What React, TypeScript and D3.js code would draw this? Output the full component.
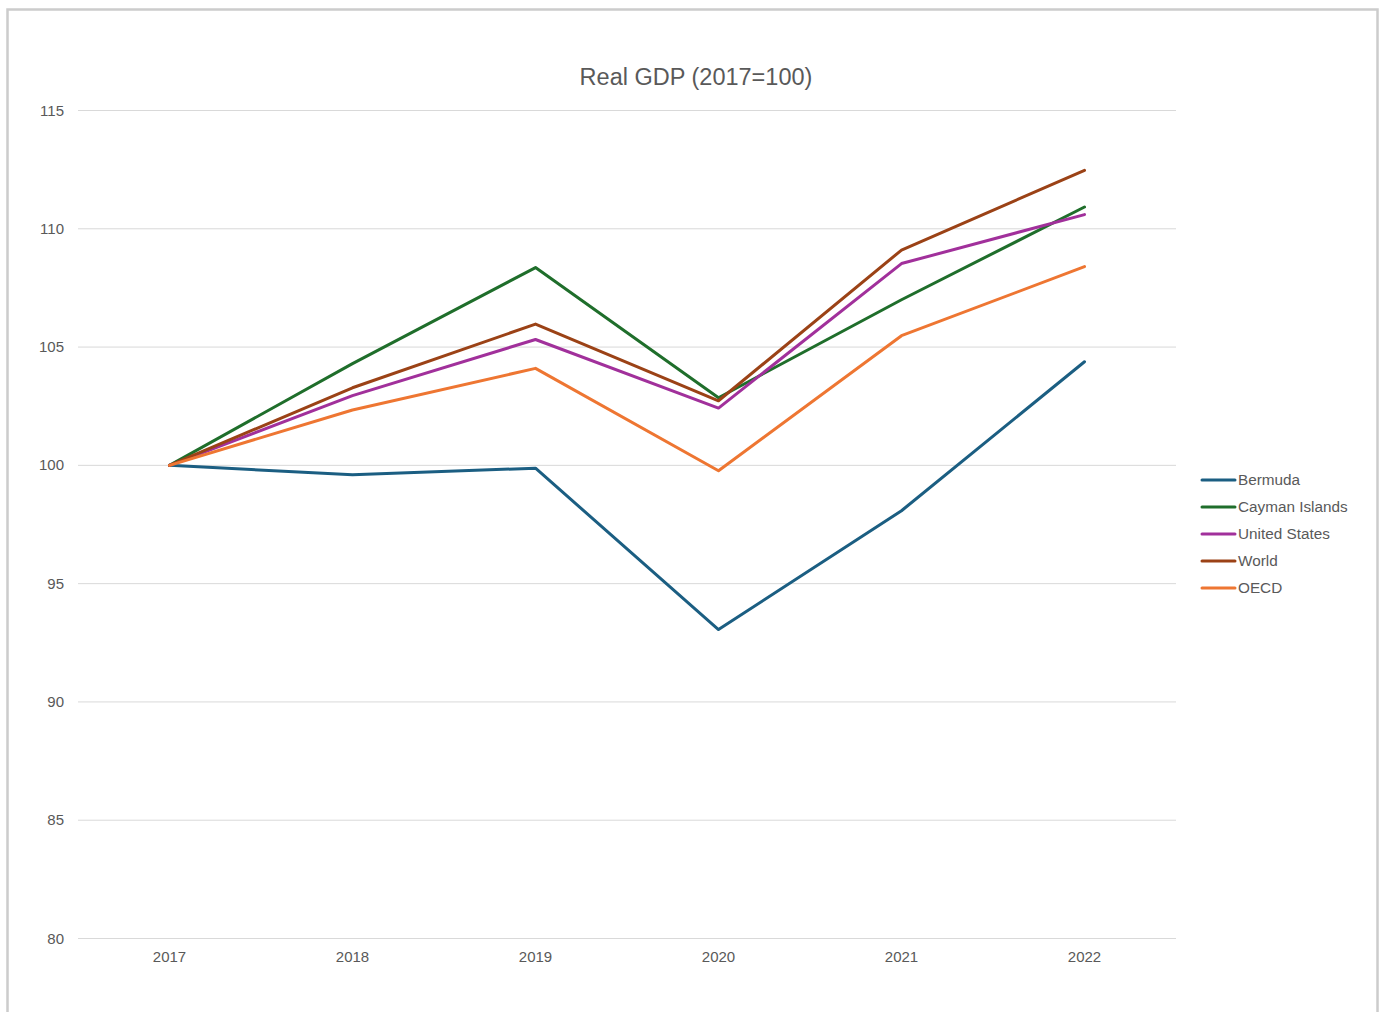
import React from 'react';
import * as d3 from 'd3';

const years = ['2017', '2018', '2019', '2020', '2021', '2022'];
const bermuda = [100, 99.6, 99.88, 93.06, 98.08, 104.38];
const cayman = [100, 104.3, 108.36, 102.86, 107.0, 110.92];
const unitedStates = [100, 102.95, 105.32, 102.42, 108.53, 110.6];
const world = [100, 103.28, 105.97, 102.73, 109.1, 112.47];
const oecd = [100, 102.34, 104.1, 99.77, 105.48, 108.4];
const yTicks = [80, 85, 90, 95, 100, 105, 110, 115];

const series = [
  { name: 'Bermuda', values: bermuda, color: '#1b5e82' },
  { name: 'Cayman Islands', values: cayman, color: '#1f6e2b' },
  { name: 'United States', values: unitedStates, color: '#a1309b' },
  { name: 'World', values: world, color: '#9b4216' },
  { name: 'OECD', values: oecd, color: '#ee7632' },
];

const W = 1384;
const H = 1012;
const font = '"Liberation Sans", Arial, sans-serif';

export default function App() {
  const x = d3.scaleBand().domain(years).range([78, 1176]);
  const y = d3.scaleLinear().domain([80, 115]).range([938.5, 110.5]);
  const line = d3
    .line<number>()
    .x((d, i) => (x(years[i]) as number) + x.bandwidth() / 2)
    .y((d) => y(d));

  return (
    <svg
      width={W}
      height={H}
      style={{ position: 'absolute', left: 0, top: 0, background: '#fff' }}
    >
      <rect x={7.5} y={9.5} width={1370} height={1020} fill="#fff" stroke="#cccccc" strokeWidth={2.5} />
      <text x={696} y={85} textAnchor="middle" fontFamily={font} fontSize={23.5} fill="#595959">
        Real GDP (2017=100)
      </text>
      {yTicks.map((t) => (
        <g key={t}>
          <line x1={78} x2={1176} y1={y(t)} y2={y(t)} stroke="#d9d9d9" strokeWidth={1} />
          <text x={64} y={y(t) + 5} textAnchor="end" fontFamily={font} fontSize={15} fill="#595959">
            {t}
          </text>
        </g>
      ))}
      {years.map((yr) => (
        <text
          key={yr}
          x={(x(yr) as number) + x.bandwidth() / 2}
          y={962}
          textAnchor="middle"
          fontFamily={font}
          fontSize={15}
          fill="#595959"
        >
          {yr}
        </text>
      ))}
      {series.map((s) => (
        <path
          key={s.name}
          d={line(s.values) || ''}
          fill="none"
          stroke={s.color}
          strokeWidth={3}
          strokeLinejoin="round"
          strokeLinecap="round"
        />
      ))}
      {series.map((s, i) => (
        <g key={s.name} transform={`translate(1201, ${480 + i * 27})`}>
          <line x1={1} x2={34} y1={0} y2={0} stroke={s.color} strokeWidth={3} strokeLinecap="round" />
          <text x={37} y={5} fontFamily={font} fontSize={15.3} fill="#595959">
            {s.name}
          </text>
        </g>
      ))}
    </svg>
  );
}
